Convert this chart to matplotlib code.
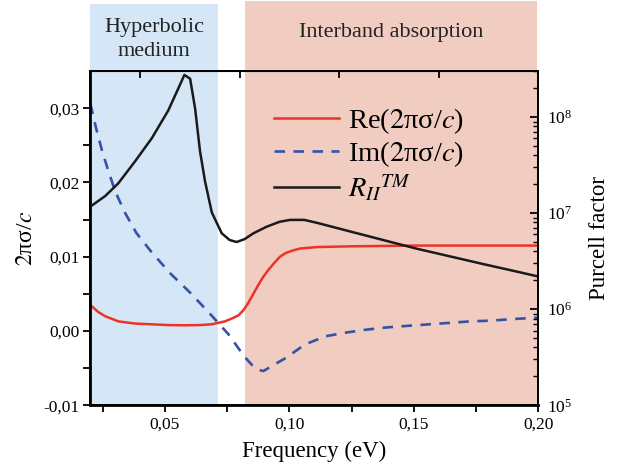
import matplotlib
matplotlib.use('Agg')
import matplotlib.pyplot as plt
from matplotlib.ticker import FixedLocator, FuncFormatter, LogLocator, NullFormatter

plt.rcParams['font.family'] = ['Liberation Serif', 'DejaVu Serif']
plt.rcParams['mathtext.fontset'] = 'stix'

# ---- data ----
# Re(2*pi*sigma/c), left axis
freq_re = [0.0200, 0.0230, 0.0259, 0.0312, 0.0380, 0.0447, 0.0513, 0.0580, 0.0640,
           0.0688, 0.0741, 0.0770, 0.0795, 0.0815, 0.0835, 0.0855, 0.0875, 0.0895,
           0.0915, 0.0940, 0.0962, 0.0985, 0.1010, 0.1042, 0.1110, 0.1250, 0.1500,
           0.1750, 0.2000]
re_sigma = [0.0035, 0.0026, 0.0020, 0.0013, 0.0010, 0.0009, 0.0008, 0.00077, 0.0008,
            0.0009, 0.0013, 0.0017, 0.0021, 0.0028, 0.0038, 0.0050, 0.0062, 0.0073,
            0.0082, 0.0092, 0.0100, 0.0105, 0.0108, 0.0111, 0.0113, 0.0114, 0.0115,
            0.0115, 0.0115]

# Im(2*pi*sigma/c), left axis
freq_im = [0.0200, 0.0224, 0.0247, 0.0271, 0.0300, 0.0338, 0.0385, 0.0449, 0.0523,
           0.0603, 0.0684, 0.0754, 0.0818, 0.0850, 0.0875, 0.0895, 0.0915, 0.0945,
           0.0982, 0.1063, 0.1146, 0.1230, 0.1313, 0.1397, 0.1478, 0.1561, 0.1645,
           0.1728, 0.1813, 0.1893, 0.2000]
im_sigma = [0.0306, 0.0272, 0.0243, 0.0217, 0.0188, 0.0160, 0.0132, 0.0105, 0.0077,
            0.0051, 0.0022, -0.0004, -0.0034, -0.0046, -0.0052, -0.0054, -0.0050,
            -0.0044, -0.0037, -0.0018, -0.0007, -0.0002, 0.0002, 0.0005, 0.0007,
            0.0009, 0.0011, 0.0013, 0.0014, 0.0016, 0.0018]

# R_II^TM Purcell factor, right (log) axis
freq_r = [0.0200, 0.0260, 0.0312, 0.0380, 0.0447, 0.0513, 0.0554, 0.0578, 0.0601,
          0.0621, 0.0641, 0.0661, 0.0688, 0.0728, 0.0760, 0.0788, 0.0820, 0.0855,
          0.0909, 0.0960, 0.1002, 0.1060, 0.1110, 0.1243, 0.1377, 0.1511, 0.1645,
          0.1779, 0.1900, 0.2000]
purcell = [1.17e7, 1.51e7, 2.04e7, 3.47e7, 6.03e7, 1.17e8, 2.00e8, 2.75e8, 2.51e8,
           1.23e8, 4.37e7, 2.14e7, 1.02e7, 6.17e6, 5.25e6, 5.01e6, 5.37e6, 6.17e6,
           7.24e6, 8.13e6, 8.51e6, 8.51e6, 7.94e6, 6.46e6, 5.25e6, 4.27e6, 3.55e6,
           2.95e6, 2.51e6, 2.19e6]

hyperbolic_band = (0.0200, 0.0714)
interband_band = (0.0822, 0.1994)

x_major = [0.025, 0.05, 0.075, 0.10, 0.125, 0.15, 0.175, 0.20]
x_labels = ['', '0,05', '', '0,10', '', '0,15', '', '0,20']
x_top = [0.04, 0.08, 0.12, 0.16]
y_ticks = [-0.01, -0.005, 0.0, 0.005, 0.01, 0.015, 0.02, 0.025, 0.03]


def comma_fmt(v, pos):
    # label only the whole hundredths, decimal comma
    if round(v * 1000) % 10:
        return ''
    if abs(v) < 1e-9:
        v = 0.0
    return f'{v:.2f}'.replace('.', ',')


# ---- figure ----
fig = plt.figure(figsize=(6.19, 4.70), dpi=100)
ax = fig.add_axes([0.1459, 0.1377, 0.7238, 0.7112])
ax2 = ax.twinx()

ax.axvspan(*hyperbolic_band, ymin=0, ymax=1.20, color='#d5e7f6', lw=0,
           clip_on=False, zorder=0)
ax.axvspan(*interband_band, ymin=0, ymax=1.209, color='#f1ccc1', lw=0,
           clip_on=False, zorder=0)

red, = ax.plot(freq_re, re_sigma, color='#ee3226', lw=1.8)
blue, = ax.plot(freq_im, im_sigma, color='#3452a8', lw=1.9, dashes=(4, 3.2))
black, = ax2.semilogy(freq_r, purcell, color='#1a1a1a', lw=1.8)

ax.set_xlim(0.02, 0.20)
ax.set_ylim(-0.01, 0.035)
ax2.set_ylim(1e5, 10**8.48)

# bottom / left ticks
ax.xaxis.set_major_locator(FixedLocator(x_major))
ax.set_xticklabels(x_labels)
ax.yaxis.set_major_locator(FixedLocator(y_ticks))
ax.yaxis.set_major_formatter(FuncFormatter(comma_fmt))
ax.tick_params(axis='both', which='major', direction='out', length=5, width=1.3,
               labelsize=12.5, pad=2.5)
ax.tick_params(axis='x', pad=3)

# top ticks pointing inward
top = ax.secondary_xaxis('top')
top.set_xticks(x_top)
top.set_xticklabels([])
top.tick_params(direction='in', length=5, width=1.3)

# right log axis
ax2.yaxis.set_major_locator(LogLocator(base=10, numticks=10))
ax2.yaxis.set_minor_locator(LogLocator(base=10, subs=range(2, 10), numticks=10))
ax2.yaxis.set_minor_formatter(NullFormatter())
ax2.tick_params(axis='y', which='major', direction='in', length=6, width=1.3,
                labelsize=12.5, pad=6)
ax2.tick_params(axis='y', which='minor', direction='in', length=3.5, width=1.0)

for a in (ax, ax2):
    for s in a.spines.values():
        s.set_linewidth(1.3)
ax.spines['left'].set_linewidth(2)
ax.spines['bottom'].set_linewidth(2)

ax.set_xlabel('Frequency (eV)', fontsize=16.5, labelpad=6)
ax.set_ylabel(r'$\mathit{2}$πσ/$c$', fontsize=17, labelpad=5)
ax2.set_ylabel('Purcell factor', fontsize=16.5, labelpad=12)

# region labels above the plot
fig.text(0.249, 0.916, 'Hyperbolic\nmedium', ha='center', va='center',
         fontsize=16, linespacing=1.4, color='#222222')
fig.text(0.632, 0.930, 'Interband absorption', ha='center', va='center',
         fontsize=16, color='#222222')

handles = [red, blue, black]
labels = [r'Re($\mathit{2}$πσ/$c$)', r'Im($\mathit{2}$πσ/$c$)', r'$R_{II}{}^{TM}$']
ax2.legend(handles, labels, loc='upper left', bbox_to_anchor=(0.41, 0.895),
           frameon=False, fontsize=20.5, handlelength=2.3, handletextpad=0.3,
           labelspacing=0.12, borderpad=0, borderaxespad=0)

fig.savefig('out.png', dpi=100)
